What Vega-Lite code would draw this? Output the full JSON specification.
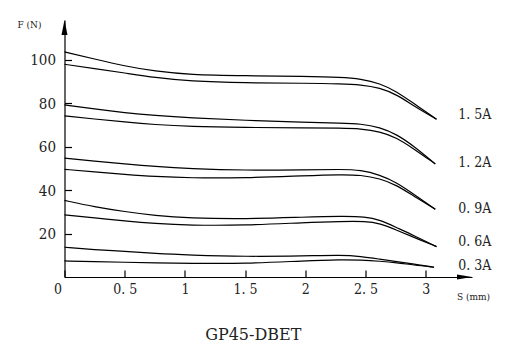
{
  "$schema": "https://vega.github.io/schema/vega-lite/v6.json",
  "width": 407.5,
  "height": 257,
  "autosize": {"type": "none"},
  "padding": {"left": 64.5, "top": 20, "right": 44, "bottom": 78},
  "background": "white",
  "config": {"view": {"stroke": null}, "font": "DejaVu Serif Condensed, DejaVu Serif", "title": {"font": "DejaVu Serif", "fontWeight": "normal", "fontSize": 16, "color": "#222"}},
  "title": {"text": "GP45-DBET", "orient": "bottom", "offset": 26, "dx": -15, "font": "DejaVu Serif", "fontSize": 16, "fontWeight": "normal", "color": "#222"},
  "datasets": {
    "curves": [
      {"curve": "1.5A-a", "s": 0, "F": 103.7}, {"curve": "1.5A-a", "s": 0.25, "F": 100.4}, {"curve": "1.5A-a", "s": 0.5, "F": 97.2}, {"curve": "1.5A-a", "s": 0.75, "F": 94.8}, {"curve": "1.5A-a", "s": 1.04, "F": 93.2}, {"curve": "1.5A-a", "s": 1.5, "F": 92.7}, {"curve": "1.5A-a", "s": 2.0, "F": 92.4}, {"curve": "1.5A-a", "s": 2.3, "F": 92.0}, {"curve": "1.5A-a", "s": 2.46, "F": 91.3}, {"curve": "1.5A-a", "s": 2.62, "F": 89.2}, {"curve": "1.5A-a", "s": 2.76, "F": 85.4}, {"curve": "1.5A-a", "s": 2.9, "F": 80.0}, {"curve": "1.5A-a", "s": 3.09, "F": 72.7},
      {"curve": "1.5A-b", "s": 0, "F": 98.0}, {"curve": "1.5A-b", "s": 0.25, "F": 96.0}, {"curve": "1.5A-b", "s": 0.5, "F": 94.0}, {"curve": "1.5A-b", "s": 0.75, "F": 91.9}, {"curve": "1.5A-b", "s": 1.04, "F": 90.2}, {"curve": "1.5A-b", "s": 1.5, "F": 89.4}, {"curve": "1.5A-b", "s": 2.0, "F": 89.3}, {"curve": "1.5A-b", "s": 2.3, "F": 89.0}, {"curve": "1.5A-b", "s": 2.46, "F": 88.6}, {"curve": "1.5A-b", "s": 2.62, "F": 87.2}, {"curve": "1.5A-b", "s": 2.76, "F": 84.0}, {"curve": "1.5A-b", "s": 2.9, "F": 78.9}, {"curve": "1.5A-b", "s": 3.09, "F": 72.7},
      {"curve": "1.2A-a", "s": 0, "F": 79.3}, {"curve": "1.2A-a", "s": 0.25, "F": 77.4}, {"curve": "1.2A-a", "s": 0.5, "F": 75.7}, {"curve": "1.2A-a", "s": 0.75, "F": 74.4}, {"curve": "1.2A-a", "s": 1.04, "F": 73.3}, {"curve": "1.2A-a", "s": 1.5, "F": 72.2}, {"curve": "1.2A-a", "s": 2.0, "F": 71.2}, {"curve": "1.2A-a", "s": 2.3, "F": 70.9}, {"curve": "1.2A-a", "s": 2.46, "F": 70.6}, {"curve": "1.2A-a", "s": 2.62, "F": 69.0}, {"curve": "1.2A-a", "s": 2.76, "F": 65.7}, {"curve": "1.2A-a", "s": 2.9, "F": 60.4}, {"curve": "1.2A-a", "s": 3.08, "F": 52.1},
      {"curve": "1.2A-b", "s": 0, "F": 74.2}, {"curve": "1.2A-b", "s": 0.25, "F": 72.8}, {"curve": "1.2A-b", "s": 0.5, "F": 71.4}, {"curve": "1.2A-b", "s": 0.75, "F": 70.2}, {"curve": "1.2A-b", "s": 1.04, "F": 69.3}, {"curve": "1.2A-b", "s": 1.5, "F": 68.9}, {"curve": "1.2A-b", "s": 2.0, "F": 68.7}, {"curve": "1.2A-b", "s": 2.3, "F": 68.6}, {"curve": "1.2A-b", "s": 2.46, "F": 68.3}, {"curve": "1.2A-b", "s": 2.62, "F": 67.0}, {"curve": "1.2A-b", "s": 2.76, "F": 64.2}, {"curve": "1.2A-b", "s": 2.9, "F": 59.1}, {"curve": "1.2A-b", "s": 3.08, "F": 52.1},
      {"curve": "0.9A-a", "s": 0, "F": 54.8}, {"curve": "0.9A-a", "s": 0.25, "F": 53.4}, {"curve": "0.9A-a", "s": 0.5, "F": 52.1}, {"curve": "0.9A-a", "s": 0.75, "F": 50.9}, {"curve": "0.9A-a", "s": 1.04, "F": 49.9}, {"curve": "0.9A-a", "s": 1.5, "F": 49.1}, {"curve": "0.9A-a", "s": 2.0, "F": 49.4}, {"curve": "0.9A-a", "s": 2.3, "F": 49.6}, {"curve": "0.9A-a", "s": 2.46, "F": 49.3}, {"curve": "0.9A-a", "s": 2.62, "F": 47.0}, {"curve": "0.9A-a", "s": 2.76, "F": 43.5}, {"curve": "0.9A-a", "s": 2.9, "F": 38.2}, {"curve": "0.9A-a", "s": 3.08, "F": 31.2},
      {"curve": "0.9A-b", "s": 0, "F": 49.6}, {"curve": "0.9A-b", "s": 0.25, "F": 48.4}, {"curve": "0.9A-b", "s": 0.5, "F": 47.3}, {"curve": "0.9A-b", "s": 0.75, "F": 46.3}, {"curve": "0.9A-b", "s": 1.04, "F": 45.6}, {"curve": "0.9A-b", "s": 1.5, "F": 45.6}, {"curve": "0.9A-b", "s": 2.0, "F": 46.7}, {"curve": "0.9A-b", "s": 2.3, "F": 47.2}, {"curve": "0.9A-b", "s": 2.46, "F": 47.0}, {"curve": "0.9A-b", "s": 2.62, "F": 45.4}, {"curve": "0.9A-b", "s": 2.76, "F": 42.3}, {"curve": "0.9A-b", "s": 2.9, "F": 37.3}, {"curve": "0.9A-b", "s": 3.08, "F": 31.2},
      {"curve": "0.6A-a", "s": 0, "F": 35.3}, {"curve": "0.6A-a", "s": 0.25, "F": 32.3}, {"curve": "0.6A-a", "s": 0.5, "F": 30.1}, {"curve": "0.6A-a", "s": 0.75, "F": 28.3}, {"curve": "0.6A-a", "s": 1.04, "F": 27.1}, {"curve": "0.6A-a", "s": 1.5, "F": 26.7}, {"curve": "0.6A-a", "s": 2.0, "F": 27.6}, {"curve": "0.6A-a", "s": 2.3, "F": 28.0}, {"curve": "0.6A-a", "s": 2.5, "F": 27.8}, {"curve": "0.6A-a", "s": 2.62, "F": 26.3}, {"curve": "0.6A-a", "s": 2.76, "F": 22.7}, {"curve": "0.6A-a", "s": 2.9, "F": 19.2}, {"curve": "0.6A-a", "s": 3.09, "F": 14.0},
      {"curve": "0.6A-b", "s": 0, "F": 28.6}, {"curve": "0.6A-b", "s": 0.25, "F": 27.3}, {"curve": "0.6A-b", "s": 0.5, "F": 25.8}, {"curve": "0.6A-b", "s": 0.75, "F": 24.6}, {"curve": "0.6A-b", "s": 1.04, "F": 23.8}, {"curve": "0.6A-b", "s": 1.5, "F": 23.8}, {"curve": "0.6A-b", "s": 2.0, "F": 25.1}, {"curve": "0.6A-b", "s": 2.3, "F": 25.6}, {"curve": "0.6A-b", "s": 2.5, "F": 25.7}, {"curve": "0.6A-b", "s": 2.62, "F": 24.7}, {"curve": "0.6A-b", "s": 2.76, "F": 21.6}, {"curve": "0.6A-b", "s": 2.9, "F": 18.3}, {"curve": "0.6A-b", "s": 3.09, "F": 14.0},
      {"curve": "0.3A-a", "s": 0, "F": 13.7}, {"curve": "0.3A-a", "s": 0.25, "F": 12.6}, {"curve": "0.3A-a", "s": 0.5, "F": 11.8}, {"curve": "0.3A-a", "s": 0.75, "F": 10.8}, {"curve": "0.3A-a", "s": 1.04, "F": 10.1}, {"curve": "0.3A-a", "s": 1.5, "F": 9.4}, {"curve": "0.3A-a", "s": 2.0, "F": 9.7}, {"curve": "0.3A-a", "s": 2.3, "F": 10.1}, {"curve": "0.3A-a", "s": 2.46, "F": 9.5}, {"curve": "0.3A-a", "s": 2.62, "F": 8.2}, {"curve": "0.3A-a", "s": 2.76, "F": 7.1}, {"curve": "0.3A-a", "s": 2.9, "F": 6.0}, {"curve": "0.3A-a", "s": 3.07, "F": 4.5},
      {"curve": "0.3A-b", "s": 0, "F": 7.4}, {"curve": "0.3A-b", "s": 0.25, "F": 7.1}, {"curve": "0.3A-b", "s": 0.5, "F": 6.8}, {"curve": "0.3A-b", "s": 0.75, "F": 6.5}, {"curve": "0.3A-b", "s": 1.04, "F": 6.3}, {"curve": "0.3A-b", "s": 1.5, "F": 6.1}, {"curve": "0.3A-b", "s": 2.0, "F": 7.5}, {"curve": "0.3A-b", "s": 2.3, "F": 8.0}, {"curve": "0.3A-b", "s": 2.46, "F": 7.8}, {"curve": "0.3A-b", "s": 2.62, "F": 7.3}, {"curve": "0.3A-b", "s": 2.76, "F": 6.6}, {"curve": "0.3A-b", "s": 2.9, "F": 5.5}, {"curve": "0.3A-b", "s": 3.07, "F": 4.5}
    ],
    "labels": [
      {"label": "1. 5A", "s": 3.27, "F": 74.7},
      {"label": "1. 2A", "s": 3.27, "F": 52.5},
      {"label": "0. 9A", "s": 3.27, "F": 31.3},
      {"label": "0. 6A", "s": 3.27, "F": 16.1},
      {"label": "0. 3A", "s": 3.27, "F": 5.2}
    ]
  },
  "layer": [
    {
      "data": {"name": "curves"},
      "mark": {"type": "line", "interpolate": "basis", "color": "black", "strokeWidth": 1.2},
      "encoding": {
        "x": {"field": "s", "type": "quantitative", "scale": {"domain": [0, 3.385], "nice": false, "zero": false},
          "axis": {"values": [0, 0.5, 1, 1.5, 2, 2.5, 3], "grid": false, "title": "S (mm)", "titleX": 392, "titleY": 19, "titleAlign": "left", "titleBaseline": "middle", "titleFontSize": 10, "titleFontWeight": "normal", "titleFont": "DejaVu Serif Condensed, DejaVu Serif", "titleColor": "#222",
            "labelFont": "DejaVu Serif Condensed, DejaVu Serif", "labelFontSize": 14, "labelColor": "#222", "labelPadding": 12, "labelOverlap": false, "labelFlush": false,
            "labelExpr": "replace(toString(datum.value), '.', '. ')",
            "labelAlign": {"condition": {"test": "datum.value == 0", "value": "right"}, "value": "center"},
            "labelOffset": {"condition": {"test": "datum.value == 0", "value": -3}, "value": 0},
            "domainColor": "black", "domainWidth": 1.2, "tickColor": "black", "tickSize": -7, "tickWidth": 1.2}},
        "y": {"field": "F", "type": "quantitative", "scale": {"domain": [0, 118.4], "nice": false},
          "axis": {"values": [20, 40, 60, 80, 100], "grid": false, "title": "F (N)", "titleAngle": 0, "titleX": -47.5, "titleY": 4, "titleAlign": "left", "titleBaseline": "middle", "titleFontSize": 10, "titleFontWeight": "normal", "titleFont": "DejaVu Serif Condensed, DejaVu Serif", "titleColor": "#222",
            "labelFont": "DejaVu Serif Condensed, DejaVu Serif", "labelFontSize": 15, "labelColor": "#222", "labelPadding": 16, "labelOverlap": false,
            "domainColor": "black", "domainWidth": 1.2, "tickColor": "black", "tickSize": -7, "tickWidth": 1.2}},
        "detail": {"field": "curve"}
      }
    },
    {
      "data": {"name": "labels"},
      "mark": {"type": "text", "align": "left", "baseline": "middle", "font": "DejaVu Serif Condensed, DejaVu Serif", "fontSize": 14, "color": "#222"},
      "encoding": {
        "x": {"field": "s", "type": "quantitative"},
        "y": {"field": "F", "type": "quantitative"},
        "text": {"field": "label"}
      }
    },
    {
      "data": {"values": [{"arrow": "y"}]},
      "mark": {"type": "point", "shape": "M0,0L0.4,2L-0.4,2Z", "size": 225, "filled": true, "color": "black", "opacity": 1, "strokeWidth": 0},
      "encoding": {"x": {"datum": 0, "type": "quantitative"}, "y": {"datum": 118.4, "type": "quantitative"}}
    },
    {
      "data": {"values": [{"arrow": "x"}]},
      "mark": {"type": "point", "shape": "M0,0L-2,-0.32L-2,0.32Z", "size": 225, "filled": true, "color": "black", "opacity": 1, "strokeWidth": 0},
      "encoding": {"x": {"datum": 3.385, "type": "quantitative"}, "y": {"datum": 0, "type": "quantitative"}}
    }
  ]
}
